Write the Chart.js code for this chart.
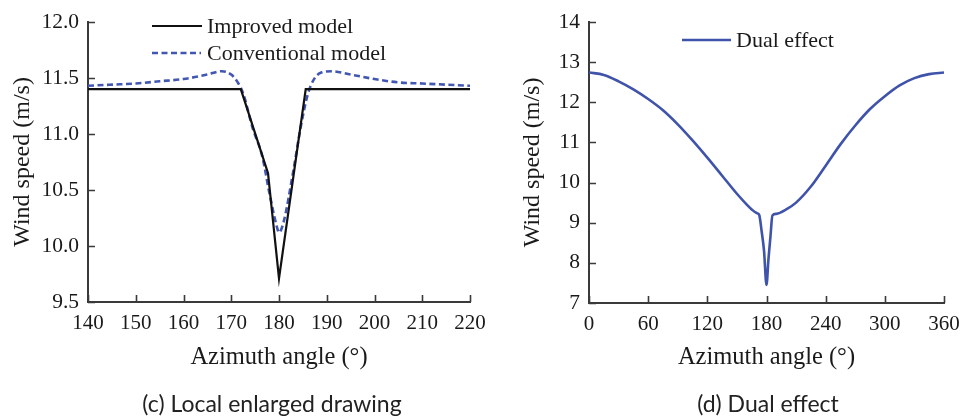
<!DOCTYPE html>
<html><head><meta charset="utf-8">
<script src="https://cdn.jsdelivr.net/npm/chart.js@4.4.1/dist/chart.umd.min.js"></script>
<style>
html,body{margin:0;padding:0;background:#fff;width:962px;height:418px;overflow:hidden;position:relative;}
#c1{position:absolute;left:0;top:0;}
#c2{position:absolute;left:480px;top:0;}
.cap{position:absolute;font-family:Lato,'Open Sans',sans-serif;font-size:23px;line-height:24px;color:#222;top:391px;white-space:nowrap;transform:translateX(-50%);}
</style></head><body>
<canvas id="c1" width="520" height="418"></canvas>
<canvas id="c2" width="500" height="418"></canvas>
<div class="cap" style="left:272px">(c) Local enlarged drawing</div>
<div class="cap" style="left:768px">(d) Dual effect</div>
<script>
// ---- data (c) Local enlarged drawing ----
const improvedAngle = [140, 172, 177.7, 180, 185.6, 220];
const improvedSpeed = [11.4, 11.4, 10.65, 9.71, 11.4, 11.4];
const conventionalAngle = [140, 145, 150, 155, 160, 165, 168, 170, 171.5, 172.5, 174.5, 176.5, 178, 179.5, 180, 181, 183, 184.5, 186, 187.5, 189, 191, 195, 200, 205, 210, 215, 220];
const conventionalSpeed = [11.43, 11.44, 11.45, 11.47, 11.49, 11.53, 11.56, 11.53, 11.45, 11.36, 11.05, 10.8, 10.47, 10.18, 10.12, 10.22, 10.67, 11.05, 11.35, 11.5, 11.55, 11.56, 11.53, 11.49, 11.46, 11.45, 11.44, 11.43];
const leftXTicks = [140, 150, 160, 170, 180, 190, 200, 210, 220];
const leftYTicks = [9.5, 10.0, 10.5, 11.0, 11.5, 12.0];
// ---- data (d) Dual effect ----
const dualAngle = [0, 15, 30, 45, 60, 75, 90, 105, 120, 135, 150, 160, 165, 170, 172.5, 175, 177.5, 180, 182, 184, 186, 190, 200, 210, 225, 240, 255, 270, 285, 300, 315, 330, 345, 360];
const dualSpeed = [12.74, 12.68, 12.52, 12.32, 12.08, 11.8, 11.45, 11.05, 10.62, 10.17, 9.72, 9.45, 9.33, 9.24, 9.2, 8.8, 8.3, 7.45, 8.1, 8.65, 9.18, 9.22, 9.33, 9.5, 9.9, 10.42, 10.95, 11.42, 11.83, 12.15, 12.42, 12.6, 12.7, 12.74];
const rightXTicks = [0, 60, 120, 180, 240, 300, 360];
const rightYTicks = [7, 8, 9, 10, 11, 12, 13, 14];

const SERIF = "'Liberation Serif','Times New Roman',serif";
const AXIS = '#3a3a3a';
const TXT = '#1a1a1a';
const pts = (xs, ys) => xs.map((x, i) => ({x, y: ys[i]}));

const inwardTicks = {
  id: 'inwardTicks',
  beforeDatasetsDraw(chart, args, opts) {
    const ctx = chart.ctx, xs = chart.scales.x, ys = chart.scales.y;
    ctx.save(); ctx.strokeStyle = AXIS; ctx.lineWidth = 1.6; ctx.beginPath();
    xs.ticks.forEach(t => { const p = Math.round(xs.getPixelForValue(t.value)) + 0.5; ctx.moveTo(p, ys.bottom); ctx.lineTo(p, ys.bottom - opts.len); });
    ys.ticks.forEach(t => { const p = Math.round(ys.getPixelForValue(t.value)) + 0.5; ctx.moveTo(xs.left, p); ctx.lineTo(xs.left + opts.len, p); });
    ctx.stroke(); ctx.restore();
  }
};
const customLegend = {
  id: 'customLegend',
  afterDatasetsDraw(chart, args, opts) {
    const ctx = chart.ctx;
    ctx.save();
    chart.data.datasets.forEach((ds, i) => {
      const it = opts.items[i];
      ctx.strokeStyle = ds.borderColor; ctx.lineWidth = ds.borderWidth; ctx.setLineDash(ds.borderDash || []);
      ctx.beginPath(); ctx.moveTo(it.x0, it.y); ctx.lineTo(it.x1, it.y); ctx.stroke();
      ctx.setLineDash([]);
      ctx.fillStyle = TXT; ctx.font = opts.size + 'px ' + SERIF; ctx.textBaseline = 'middle'; ctx.textAlign = 'left';
      ctx.fillText(ds.label, it.tx, it.y + 1);
    });
    ctx.restore();
  }
};

function makeOptions(c) {
  return {
    responsive: false, animation: false,
    layout: {padding: {left: 0, top: c.top, right: c.right, bottom: 0}},
    plugins: {legend: {display: false}, tooltip: {enabled: false},
      inwardTicks: {len: 7}, customLegend: {items: c.legend, size: 22}},
    elements: {point: {radius: 0}},
    scales: {
      x: {type: 'linear', min: c.xt[0], max: c.xt[c.xt.length - 1],
        afterBuildTicks: s => { s.ticks = c.xt.map(v => ({value: v})); },
        ticks: {padding: 9, font: {family: SERIF, size: 21}, color: TXT, maxRotation: 0, autoSkip: false},
        grid: {display: false, drawTicks: false}, border: {display: true, color: AXIS, width: 2},
        title: {display: true, text: 'Azimuth angle (°)', font: {family: SERIF, size: 24.5}, color: TXT, padding: {top: 0, bottom: 46}},
        afterFit: s => { s.height = c.xh; }},
      y: {type: 'linear', min: c.yt[0], max: c.yt[c.yt.length - 1],
        afterBuildTicks: s => { s.ticks = c.yt.map(v => ({value: v})); },
        ticks: {padding: 9, font: {family: SERIF, size: 21.5}, color: TXT, callback: c.yfmt},
        grid: {display: false, drawTicks: false}, border: {display: true, color: AXIS, width: 2},
        title: {display: true, text: 'Wind speed (m/s)', font: {family: SERIF, size: 24}, color: TXT, padding: {top: c.ytp, bottom: 0}},
        afterFit: s => { s.width = c.yw; }}
    }
  };
}

new Chart(document.getElementById('c1'), {
  type: 'line',
  data: {datasets: [
    {label: 'Improved model', data: pts(improvedAngle, improvedSpeed), borderColor: '#111111', borderWidth: 2.2, tension: 0, fill: false},
    {label: 'Conventional model', data: pts(conventionalAngle, conventionalSpeed), borderColor: '#4257b2', borderWidth: 2.6, borderDash: [6, 3.5], cubicInterpolationMode: 'monotone', fill: false}
  ]},
  options: makeOptions({top: 19, right: 50, xh: 116, yw: 88, ytp: 8, xt: leftXTicks, yt: leftYTicks,
    yfmt: v => Number(v).toFixed(1),
    legend: [{x0: 152, x1: 202, y: 26, tx: 207}, {x0: 152, x1: 201, y: 53, tx: 207}]}),
  plugins: [inwardTicks, customLegend]
});

new Chart(document.getElementById('c2'), {
  type: 'line',
  data: {datasets: [
    {label: 'Dual effect', data: pts(dualAngle, dualSpeed), borderColor: '#3f53aa', borderWidth: 2.6, cubicInterpolationMode: 'monotone', fill: false}
  ]},
  options: makeOptions({top: 17, right: 36, xh: 115, yw: 109, ytp: 38, xt: rightXTicks, yt: rightYTicks,
    yfmt: v => String(v),
    legend: [{x0: 202, x1: 251, y: 40, tx: 256}]}),
  plugins: [inwardTicks, customLegend]
});
</script>
</body></html>
